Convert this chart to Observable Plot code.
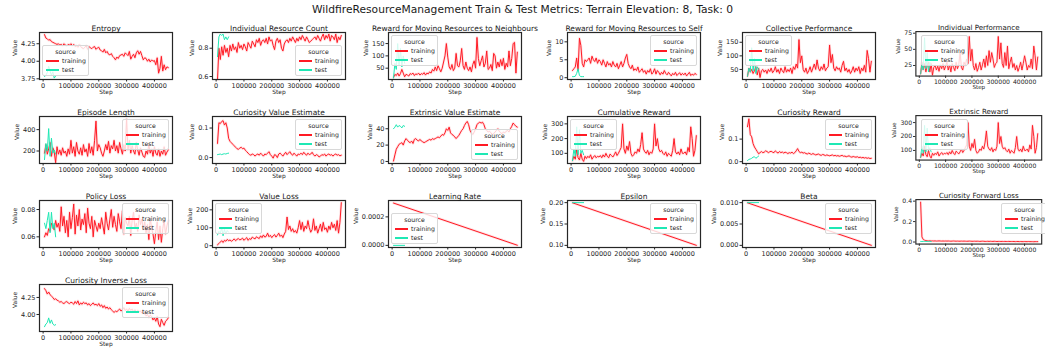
<!DOCTYPE html>
<html><head><meta charset="utf-8">
<script src="https://cdn.jsdelivr.net/npm/d3@7"></script>
<script src="https://cdn.jsdelivr.net/npm/@observablehq/plot@0.6"></script>
<style>
html,body{margin:0;padding:0;background:#fff;}
#fig{position:relative;width:1045px;height:354px;overflow:hidden;font-family:"DejaVu Sans",sans-serif;color:#262626;}
.sup{position:absolute;left:0;width:1045px;top:3px;text-align:center;font-size:10.7px;line-height:13px;color:#1a1a1a;}
.panel{position:absolute;}
.panel svg{overflow:visible;}
.leg{position:absolute;width:47px;height:31px;background:rgba(255,255,255,0.8);border:1px solid #d8d8d8;border-radius:2px;box-sizing:border-box;font-size:6.2px;line-height:7px;color:#262626;}
.leg .lt{position:absolute;left:0;width:100%;top:2px;text-align:center;}
.leg .sw{position:absolute;left:3px;width:13px;height:1.5px;}
.leg .tx{position:absolute;left:19px;}
</style>
</head><body>
<div id="fig"><div class="sup">WildfireResourceManagement Train &amp; Test Metrics: Terrain Elevation: 8, Task: 0</div></div>
<script>
// ---------------- data ----------------
const trainSteps = [5000,10000,15000,20000,25000,30000,35000,40000,45000,50000,
55000,60000,65000,70000,75000,80000,85000,90000,95000,100000,
105000,110000,115000,120000,125000,130000,135000,140000,145000,150000,
155000,160000,165000,170000,175000,180000,185000,190000,195000,200000,
205000,210000,215000,220000,225000,230000,235000,240000,245000,250000,
255000,260000,265000,270000,275000,280000,285000,290000,295000,300000,
305000,310000,315000,320000,325000,330000,335000,340000,345000,350000,
355000,360000,365000,370000,375000,380000,385000,390000,395000,400000,
405000,410000,415000,420000,425000,430000,435000,440000,445000,450000];
const testSteps = [5000,10000,15000,20000,25000,30000,35000,40000,45000];
const lineSteps = [5000, 450000];
const testLineSteps = [5000, 45000];
const xTicks = [0, 100000, 200000, 300000, 400000];
const sources = ["training", "test"];

const entropyTrain = [4.38,4.33,4.32,4.30,4.31,4.28,4.27,4.26,4.25,4.24,
4.25,4.23,4.24,4.22,4.25,4.23,4.22,4.24,4.23,4.25,
4.22,4.24,4.21,4.22,4.20,4.23,4.21,4.19,4.18,4.20,
4.22,4.17,4.21,4.19,4.18,4.20,4.21,4.17,4.19,4.20,
4.16,4.15,4.13,4.17,4.12,4.14,4.10,4.09,4.11,4.07,
4.05,4.02,4.06,4.04,4.08,4.09,4.10,4.07,4.12,4.10,
4.08,4.14,4.03,4.07,4.10,4.05,4.12,4.15,4.10,4.14,
4.08,4.02,4.05,4.04,4.00,4.03,3.99,4.02,4.00,4.01,
3.95,4.05,3.83,3.90,4.07,3.86,3.95,3.88,3.92,3.91];
const entropyTest = [3.78,3.80,3.84,3.93,3.86,3.80,3.85,3.76,3.79];
const entropyTicks = [3.75, 4.00, 4.25];

const resCountTrain = [0.58,0.80,0.72,0.81,0.75,0.82,0.77,0.80,0.74,0.82,
0.78,0.83,0.79,0.81,0.77,0.84,0.80,0.82,0.79,0.83,
0.81,0.78,0.84,0.82,0.80,0.85,0.83,0.81,0.86,0.84,
0.87,0.82,0.85,0.86,0.84,0.87,0.83,0.88,0.85,0.86,
0.82,0.79,0.85,0.87,0.84,0.86,0.80,0.78,0.83,0.85,
0.86,0.84,0.87,0.85,0.88,0.86,0.84,0.87,0.85,0.88,
0.86,0.89,0.87,0.85,0.88,0.86,0.84,0.85,0.86,0.87,
0.88,0.86,0.89,0.87,0.85,0.88,0.90,0.86,0.89,0.87,
0.90,0.85,0.89,0.88,0.86,0.90,0.84,0.88,0.86,0.89];
const resCountTest = [0.74,0.88,0.90,0.89,0.90,0.86,0.88,0.86,0.88];
const resCountTicks = [0.6, 0.8];

const neighTrain = [12,25,20,30,18,28,45,30,15,25,
22,18,28,25,30,20,27,24,30,22,
28,25,32,22,30,27,35,30,45,38,
55,40,60,48,35,50,75,100,150,95,
55,45,65,40,50,110,60,55,80,130,
60,45,75,50,40,55,35,65,80,50,
175,90,60,80,100,55,70,120,45,50,
65,40,110,100,50,75,55,85,60,90,
45,70,55,120,60,90,150,155,30,115];
const neighTest = [10,70,45,150,60,130,55,100,70];
const neighTicks = [50, 100, 150];

const selfTrain = [2.0,2.5,3.0,5.5,2.0,11.0,9.0,4.0,3.0,5.0,
4.5,5.0,5.5,4.0,6.0,5.0,4.5,5.5,4.0,5.0,
4.5,3.5,5.0,4.0,3.0,4.5,3.5,4.0,3.0,4.5,
3.5,3.0,4.0,2.5,3.5,4.5,3.0,4.0,5.5,6.5,
4.0,3.0,2.5,3.5,2.0,2.5,2.0,3.0,1.5,2.0,
2.5,1.5,2.0,1.0,2.0,1.5,2.5,1.0,1.5,2.5,
1.0,2.0,1.5,0.8,1.5,1.0,2.0,1.2,0.8,1.5,
1.0,0.5,1.2,0.8,1.5,0.6,1.0,1.4,0.7,1.2,
0.8,1.3,0.5,1.0,1.5,0.6,1.0,0.7,1.2,0.9];
const selfTest = [0.3,0.3,0.4,1.2,2.5,0.6,0.3,0.3,0.3];
const selfTicks = [0, 5, 10];

const collTrain = [25,55,40,50,35,45,60,30,55,20,
45,50,40,48,35,50,42,55,38,45,
60,40,50,35,55,45,38,60,40,50,
42,55,35,60,50,70,55,160,75,100,
50,40,55,35,45,60,40,55,70,50,
85,55,45,60,50,70,45,55,60,140,
75,105,55,45,60,50,55,40,65,80,
45,55,40,50,35,45,60,40,55,45,
60,35,55,45,65,40,120,90,40,80];
const collTest = [25,55,40,130,45,90,35,60,50];
const collTicks = [50, 100, 150];

const indPerfTrain = [12,30,18,28,15,25,30,15,28,10,
22,25,18,24,16,26,20,28,18,24,
30,18,26,15,28,22,17,30,20,26,
45,22,18,30,25,35,28,70,32,50,
25,18,28,16,22,30,18,26,35,22,
40,25,48,30,45,35,22,28,30,70,
35,60,28,22,45,25,55,20,30,38,
22,28,18,25,16,22,30,18,28,40,
30,18,25,22,35,20,55,40,18,38];
const indPerfTest = [12,28,18,68,20,45,15,30,25];
const indPerfTicks = [25, 50, 75];

const epLenTrain = [180,260,170,220,280,150,230,190,90,240,
170,210,160,230,180,200,150,220,170,300,
180,240,150,280,200,170,230,160,260,190,
220,150,270,180,240,160,300,480,200,260,
230,180,150,200,260,210,290,180,250,220,
300,200,250,180,280,220,170,260,200,500,
210,300,180,250,200,170,280,210,160,230,
190,150,140,200,170,260,180,220,150,240,
180,160,220,150,200,170,240,160,190,210];
const epLenTest = [120,270,200,410,150,320,180,210,170];
const epLenTicks = [200, 400];

const curValTrain = [0.048,0.118,0.115,0.122,0.125,0.110,0.118,0.100,0.065,0.055,
0.050,0.045,0.040,0.035,0.030,0.028,0.032,0.035,0.030,0.032,
0.025,0.020,0.015,0.010,0.008,0.012,0.010,0.005,0.010,0.012,
0.008,0.015,0.010,0.005,0.012,0.010,0.015,0.020,0.010,0.005,
-0.002,0.010,0.008,0.000,0.012,0.015,0.010,0.005,0.012,0.018,
0.010,0.015,0.020,0.012,0.008,0.015,0.010,0.005,0.012,0.010,
0.015,0.010,0.018,0.012,0.008,0.015,0.010,0.012,0.018,0.010,
0.005,0.010,0.008,0.002,0.005,0.010,0.008,0.012,0.005,0.010,
0.012,0.008,0.010,0.005,0.010,0.012,0.008,0.010,0.006,0.008];
const curValTest = [0.010,0.011,0.012,0.010,0.012,0.013,0.012,0.014,0.015];
const curValTicks = [0.0, 0.1];

const extValTrain = [0.5,8,15,18,21,22,23,20,25,28,
26,24,23,25,22,27,28,26,25,27,
25,24,23,24,25,26,27,26,28,27,
28,29,30,29,31,33,32,35,40,38,
42,35,33,32,30,28,30,32,35,38,
40,44,47,49,45,38,35,33,36,40,
45,47,48,47,48,45,40,38,36,37,
35,33,34,36,38,40,37,35,34,36,
35,37,38,36,40,43,47,45,43,42];
const extValTest = [40,42,45,42,44,43,41,44,43];
const extValTicks = [0, 20, 40];

const cumRewTrain = [50,80,60,130,70,55,100,60,45,80,
65,80,70,90,60,75,85,70,80,75,
85,70,90,75,100,80,70,95,85,75,
90,110,85,100,120,140,300,130,100,150,
120,180,100,80,90,110,100,130,110,160,
240,130,110,100,120,90,110,100,130,300,
150,200,130,110,120,100,90,110,80,100,
90,80,120,200,110,95,110,90,130,100,
100,110,90,140,110,280,200,80,120,220];
const cumRewTest = [50,130,80,280,90,260,100,120,90];
const cumRewTicks = [100, 200, 300];

const curRewTrain = [0.155,0.190,0.120,0.110,0.080,0.065,0.055,0.045,0.035,0.040,
0.045,0.040,0.042,0.048,0.045,0.040,0.044,0.046,0.042,0.040,
0.048,0.042,0.038,0.045,0.040,0.043,0.038,0.042,0.040,0.036,
0.040,0.038,0.042,0.036,0.040,0.048,0.058,0.045,0.040,0.042,
0.038,0.040,0.036,0.034,0.038,0.035,0.032,0.036,0.033,0.030,
0.032,0.034,0.030,0.028,0.032,0.030,0.027,0.030,0.028,0.026,
0.028,0.030,0.026,0.028,0.025,0.027,0.024,0.026,0.028,0.024,
0.025,0.022,0.024,0.026,0.022,0.020,0.023,0.021,0.020,0.022,
0.018,0.020,0.017,0.019,0.016,0.018,0.015,0.017,0.014,0.015];
const curRewTest = [0.005,0.010,0.012,0.015,0.020,0.022,0.015,0.020,0.025];
const curRewTicks = [0.0, 0.1];

const extRewTrain = [50,80,60,130,70,55,100,60,45,80,
65,80,70,90,60,75,85,70,80,75,
85,70,90,75,100,80,70,95,85,75,
90,110,85,100,120,140,300,130,100,150,
120,180,100,80,90,110,100,130,110,160,
240,130,110,100,120,90,110,100,130,300,
150,200,130,110,120,100,90,110,80,100,
90,80,120,200,110,95,110,90,130,100,
100,110,90,140,110,280,200,80,120,220];
const extRewTest = [50,130,80,280,90,260,100,120,90];
const extRewTicks = [100, 200, 300];

const polLossTrain = [0.060,0.063,0.061,0.066,0.064,0.070,0.068,0.065,0.072,0.067,
0.070,0.064,0.082,0.068,0.075,0.063,0.072,0.060,0.078,0.066,
0.074,0.084,0.062,0.076,0.068,0.080,0.065,0.073,0.069,0.077,
0.063,0.081,0.070,0.066,0.075,0.060,0.072,0.068,0.064,0.070,
0.066,0.074,0.068,0.062,0.078,0.070,0.065,0.073,0.080,0.067,
0.075,0.069,0.064,0.077,0.071,0.066,0.079,0.062,0.074,0.070,
0.068,0.075,0.061,0.072,0.078,0.066,0.070,0.064,0.076,0.069,
0.073,0.065,0.071,0.063,0.069,0.058,0.074,0.066,0.062,0.055,
0.064,0.071,0.058,0.068,0.056,0.066,0.072,0.062,0.068,0.072];
const polLossTest = [0.070,0.066,0.072,0.078,0.063,0.078,0.066,0.070,0.060];
const polLossTicks = [0.06, 0.08];

const valLossTrain = [5,12,20,28,18,30,25,35,28,32,
25,30,38,28,35,40,32,36,42,30,
38,45,30,40,35,48,42,38,50,44,
40,55,45,60,48,52,70,50,58,45,
55,62,48,58,70,52,60,45,65,80,
160,90,110,80,95,75,85,70,100,140,
90,130,80,110,95,140,100,75,90,150,
85,110,70,95,120,80,130,90,100,75,
110,90,130,100,120,85,140,70,130,240];
const valLossTest = [60,80,70,100,55,90,65,85,75];
const valLossTicks = [0, 100, 200];

const lrTrain = [0.000297, 0.000001];
const lrTest = [0.0, 0.0];
const lrTicks = [0.0, 0.0002];

const epsTrain = [0.1996, 0.1001];
const epsTest = [0.2, 0.2];
const epsTicks = [0.10, 0.15, 0.20];

const betaTrain = [0.00996, 0.00001];
const betaTest = [0.01, 0.01];
const betaTicks = [0.000, 0.005, 0.010];

const fwdLossTrain = [0.390,0.050,0.025,0.018,0.014,0.012,0.011,0.012,0.010,0.011,
0.010,0.011,0.009,0.010,0.011,0.010,0.009,0.010,0.009,0.010,
0.009,0.010,0.009,0.008,0.009,0.010,0.009,0.008,0.009,0.008,
0.008,0.009,0.008,0.009,0.008,0.007,0.008,0.009,0.008,0.007,
0.007,0.008,0.007,0.008,0.007,0.006,0.007,0.008,0.007,0.006,
0.006,0.007,0.006,0.007,0.006,0.006,0.007,0.006,0.005,0.006,
0.006,0.005,0.006,0.005,0.006,0.005,0.005,0.006,0.005,0.005,
0.005,0.005,0.004,0.005,0.005,0.004,0.005,0.004,0.004,0.005,
0.004,0.004,0.005,0.004,0.004,0.004,0.003,0.004,0.004,0.004];
const fwdLossTest = [0.006,0.005,0.006,0.005,0.006,0.005,0.005,0.006,0.005];
const fwdLossTicks = [0.0, 0.2, 0.4];

const invLossTrain = [4.38,4.35,4.30,4.33,4.29,4.27,4.25,4.22,4.23,4.21,
4.20,4.18,4.19,4.17,4.16,4.18,4.19,4.17,4.16,4.18,
4.17,4.15,4.19,4.16,4.20,4.14,4.17,4.15,4.18,4.16,
4.17,4.14,4.16,4.13,4.15,4.17,4.14,4.15,4.13,4.16,
4.12,4.14,4.10,4.13,4.09,4.11,4.08,4.10,4.07,4.05,
4.03,4.05,4.04,4.06,4.08,4.05,4.07,4.10,4.06,4.08,
4.05,4.09,4.06,4.08,4.04,4.07,4.03,4.06,4.04,4.05,
4.02,4.04,4.01,3.98,4.00,3.96,3.99,3.97,3.92,3.95,
3.90,3.97,3.86,3.82,3.93,3.88,3.84,3.90,3.92,3.95];
const invLossTest = [3.82,3.86,3.88,3.95,3.87,3.92,3.86,3.84,3.85];
const invLossTicks = [4.00, 4.25];

// ---------------- panels ----------------
const panels = [
  {title:"Entropy", xs:trainSteps, tr:entropyTrain, xt:testSteps, te:entropyTest, dom:[3.74,4.41], ticks:entropyTicks, fmt:".2f", leg:"ll"},
  {title:"Individual Resource Count", xs:trainSteps, tr:resCountTrain, xt:testSteps, te:resCountTest, dom:[0.579,0.911], ticks:resCountTicks, fmt:".1f", leg:"lr"},
  {title:"Reward for Moving Resources to Neighbours", xs:trainSteps, tr:neighTrain, xt:testSteps, te:neighTest, dom:[4,195], ticks:neighTicks, fmt:"d", leg:"ul"},
  {title:"Reward for Moving Resources to Self", xs:trainSteps, tr:selfTrain, xt:testSteps, te:selfTest, dom:[-0.5,12.6], ticks:selfTicks, fmt:"d", leg:"ur"},
  {title:"Collective Performance", xs:trainSteps, tr:collTrain, xt:testSteps, te:collTest, dom:[13,186], ticks:collTicks, fmt:"d", leg:"ul"},
  {title:"Individual Performance", xs:trainSteps, tr:indPerfTrain, xt:testSteps, te:indPerfTest, dom:[8.6,77.5], ticks:indPerfTicks, fmt:"d", leg:"ul"},
  {title:"Episode Length", xs:trainSteps, tr:epLenTrain, xt:testSteps, te:epLenTest, dom:[83,523], ticks:epLenTicks, fmt:"d", leg:"ur"},
  {title:"Curiosity Value Estimate", xs:trainSteps, tr:curValTrain, xt:testSteps, te:curValTest, dom:[-0.02,0.139], ticks:curValTicks, fmt:".1f", leg:"ur"},
  {title:"Extrinsic Value Estimate", xs:trainSteps, tr:extValTrain, xt:testSteps, te:extValTest, dom:[-2.5,55], ticks:extValTicks, fmt:"d", leg:"lr"},
  {title:"Cumulative Reward", xs:trainSteps, tr:cumRewTrain, xt:testSteps, te:cumRewTest, dom:[31,350], ticks:cumRewTicks, fmt:"d", leg:"ul"},
  {title:"Curiosity Reward", xs:trainSteps, tr:curRewTrain, xt:testSteps, te:curRewTest, dom:[-0.008,0.2], ticks:curRewTicks, fmt:".1f", leg:"ur"},
  {title:"Extrinsic Reward", xs:trainSteps, tr:extRewTrain, xt:testSteps, te:extRewTest, dom:[31,350], ticks:extRewTicks, fmt:"d", leg:"ul"},
  {title:"Policy Loss", xs:trainSteps, tr:polLossTrain, xt:testSteps, te:polLossTest, dom:[0.0522,0.0866], ticks:polLossTicks, fmt:".2f", leg:"ur"},
  {title:"Value Loss", xs:trainSteps, tr:valLossTrain, xt:testSteps, te:valLossTest, dom:[-10,252], ticks:valLossTicks, fmt:"d", leg:"ul"},
  {title:"Learning Rate", xs:lineSteps, tr:lrTrain, xt:testLineSteps, te:lrTest, dom:[-0.000015,0.000315], ticks:lrTicks, fmt:".4f", leg:"ll"},
  {title:"Epsilon", xs:lineSteps, tr:epsTrain, xt:testLineSteps, te:epsTest, dom:[0.095,0.205], ticks:epsTicks, fmt:".2f", leg:"ur"},
  {title:"Beta", xs:lineSteps, tr:betaTrain, xt:testLineSteps, te:betaTest, dom:[-0.0005,0.0105], ticks:betaTicks, fmt:".3f", leg:"ur"},
  {title:"Curiosity Forward Loss", xs:trainSteps, tr:fwdLossTrain, xt:testSteps, te:fwdLossTest, dom:[-0.02,0.415], ticks:fwdLossTicks, fmt:".1f", leg:"ur"},
  {title:"Curiosity Inverse Loss", xs:trainSteps, tr:invLossTrain, xt:testSteps, te:invLossTest, dom:[3.75,4.44], ticks:invLossTicks, fmt:".2f", leg:"ur"}
];

// ---------------- layout / style ----------------
const RED = "#ff1a24", CYAN = "#1ee8b4";
const colors = [RED, CYAN];
const FLEFT = [39, 212, 388, 567, 742, 918];
const FTOP = [32, 116, 200, 284];
const FW = 133, FH = 47;
const ML = 48, MR = 4, MT = 16, MB = 24;
const X_DOMAIN = [-13000, 465000];
const TICK_FS = 6.5, TITLE_FS = 7.5, LAB_FS = 5.9;

const ctx = document.createElement("canvas").getContext("2d");
ctx.font = `${TICK_FS}px "DejaVu Sans"`;

const fig = document.getElementById("fig");
panels.forEach((p, i) => {
  const col = i % 6, row = Math.floor(i / 6);
  const fl = FLEFT[col], ft = FTOP[row];
  const fmt = d3.format(p.fmt);
  const wMax = d3.max(p.ticks, t => ctx.measureText(fmt(t)).width);
  const train = p.xs.map((s, k) => ({step: s, value: p.tr[k]}));
  const test = p.xt.map((s, k) => ({step: s, value: p.te[k]}));
  const chart = Plot.plot({
    width: ML + FW + MR, height: MT + FH + MB,
    marginLeft: ML, marginRight: MR, marginTop: MT, marginBottom: MB,
    style: {fontFamily: '"DejaVu Sans", sans-serif', fontSize: TICK_FS + "px", color: "#262626", background: "transparent"},
    x: {domain: X_DOMAIN, axis: null},
    y: {domain: p.dom, axis: null},
    marks: [
      Plot.line(train, {x: "step", y: "value", stroke: RED, strokeWidth: 2.6, strokeOpacity: 0.13}),
      Plot.line(train, {x: "step", y: "value", stroke: RED, strokeWidth: 1}),
      Plot.line(test, {x: "step", y: "value", stroke: CYAN, strokeWidth: 1}),
      Plot.axisX({ticks: xTicks, tickFormat: d3.format("d"), tickSize: 2.5, tickPadding: 1.5, label: null, fontSize: TICK_FS}),
      Plot.axisY({ticks: p.ticks, tickFormat: fmt, tickSize: 2.5, tickPadding: 1.5, label: null, fontSize: TICK_FS}),
      Plot.frame({stroke: "#262626", strokeWidth: 1.2}),
      Plot.text([p.title], {frameAnchor: "top", dy: -7, fontSize: TITLE_FS, fill: "#1a1a1a"}),
      Plot.text(["Step"], {frameAnchor: "bottom", dy: 14, fontSize: LAB_FS, fill: "#262626"}),
      Plot.text(["Value"], {frameAnchor: "left", dx: -(wMax + 10), rotate: -90, fontSize: LAB_FS, fill: "#262626"})
    ]
  });
  const div = document.createElement("div");
  div.className = "panel";
  div.style.left = (fl - ML) + "px";
  div.style.top = (ft - MT) + "px";
  div.appendChild(chart);
  // legend
  const LW = 47, LH = 31, INS = 3;
  let lx, ly;
  if (p.leg[1] === "l") lx = ML + INS; else lx = ML + FW - INS - LW;
  if (p.leg[0] === "u") ly = MT + INS; else if (p.leg[0] === "l") ly = MT + FH - INS - LH; else ly = MT + Math.round((FH - LH) / 2);
  const leg = document.createElement("div");
  leg.className = "leg";
  leg.style.left = lx + "px";
  leg.style.top = ly + "px";
  let html = `<div class="lt">source</div>`;
  sources.forEach((s, k) => {
    const cy = 14 + k * 9;
    html += `<div class="sw" style="top:${cy}px;background:${colors[k]}"></div><div class="tx" style="top:${cy - 3}px">${s}</div>`;
  });
  leg.innerHTML = html;
  div.appendChild(leg);
  fig.appendChild(div);
});
</script>
</body></html>
